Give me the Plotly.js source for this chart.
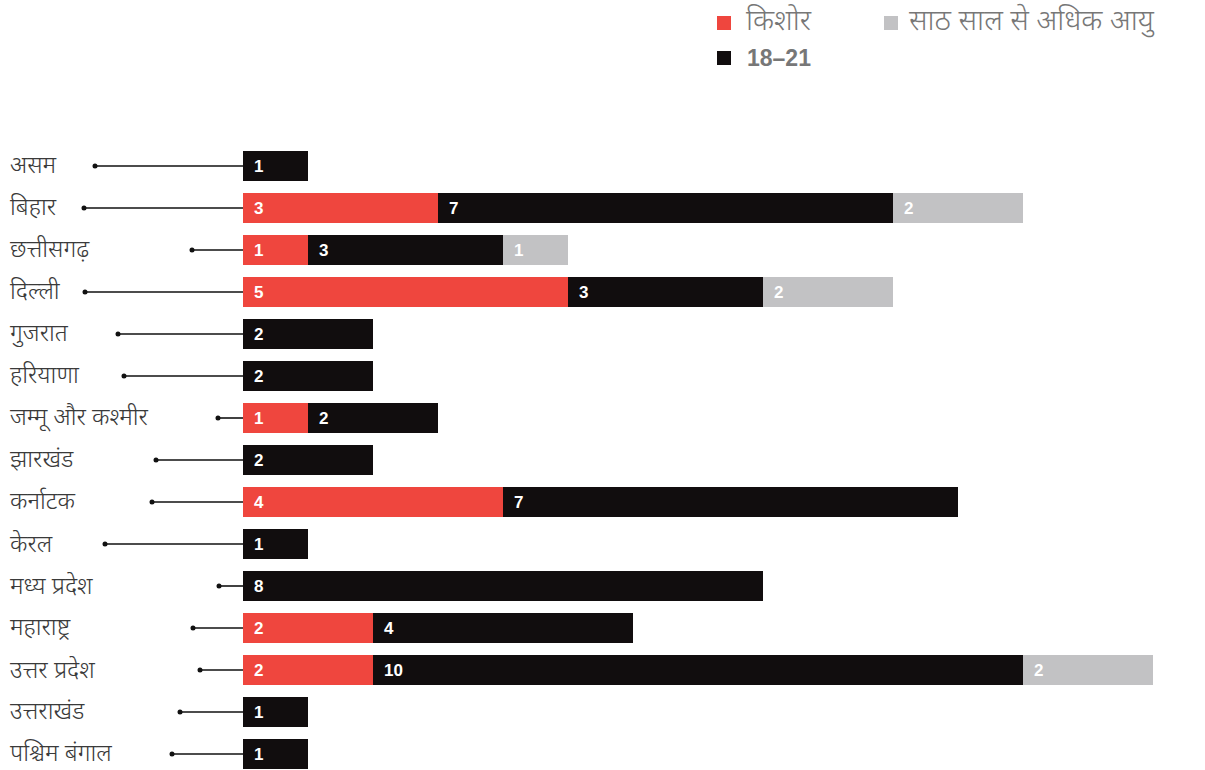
<!DOCTYPE html>
<html>
<head>
<meta charset="utf-8">
<script src="https://cdn.plot.ly/plotly-3.0.1.min.js"></script>
<style>
  html, body { margin: 0; padding: 0; background: #fff; }
  #chart { width: 1205px; height: 770px; }
</style>
</head>
<body>
<div id="chart"></div>
<script>
// ---- data ----
const states = ["असम", "बिहार", "छत्तीसगढ़", "दिल्ली", "गुजरात", "हरियाणा", "जम्मू और कश्मीर", "झारखंड", "कर्नाटक", "केरल", "मध्य प्रदेश", "महाराष्ट्र", "उत्तर प्रदेश", "उत्तराखंड", "पश्चिम बंगाल"];
const teen   = [0, 3, 1, 5, 0, 0, 1, 0, 4, 0, 0, 2, 2, 0, 0];
const young  = [1, 7, 3, 3, 2, 2, 2, 2, 7, 1, 8, 4, 10, 1, 1];
const senior = [0, 2, 1, 2, 0, 0, 0, 0, 0, 0, 0, 0, 2, 0, 0];
const seriesNames = ["किशोर", "18–21", "साठ साल से अधिक आयु"];

// ---- layout constants (pixels) ----
const W = 1205, H = 770;
const ML = 243, MR = 20, MT = 145, MB = 0;
const unitPx = 65, rowPx = 42;
const plotW = W - ML - MR, plotH = H - MT - MB;
const leaderDotPx = [95, 84, 192, 85, 118, 124, 218, 156, 152, 105, 219, 193, 200, 180, 172];
const labelPx = 9;
const colors = ["#ef463e", "#110d0e", "#c2c2c4"];
const devFont = "'Noto Sans Devanagari', 'Lohit Devanagari', 'Noto Sans', sans-serif";

const toPaperX = px => (px - ML) / plotW;
const toPaperY = py => (H - MB - py) / plotH;
const nz = arr => arr.map(v => v === 0 ? null : v);
const series = [teen, young, senior];

const traces = series.map((vals, k) => ({
  type: "bar",
  orientation: "h",
  y: states,
  x: nz(vals),
  name: seriesNames[k],
  marker: { color: colors[k], line: { width: 0 } },
  hoverinfo: "x+y+name",
  showlegend: false
}));

const annotations = [];
const shapes = [];

states.forEach((s, i) => {
  let base = 0;
  series.forEach((vals, k) => {
    const v = vals[i];
    if (v > 0) {
      annotations.push({
        x: base, y: s, xref: "x", yref: "y",
        text: String(v), showarrow: false,
        xanchor: "left", yanchor: "middle", xshift: 9, yshift: 0,
        font: { family: "'Liberation Sans', Arial, sans-serif", size: 17, color: "#ffffff", weight: 700 }
      });
    }
    base += v;
  });
  annotations.push({
    x: toPaperX(labelPx), y: s, xref: "paper", yref: "y",
    text: s, showarrow: false, xanchor: "left", yanchor: "middle", yshift: -1,
    borderpad: 0,
    font: { family: devFont, size: 24, color: "#3a3a3a", weight: 300 }
  });
  shapes.push({
    type: "line", xref: "paper", yref: "y",
    x0: toPaperX(leaderDotPx[i]), x1: 0, y0: i, y1: i,
    line: { color: "#111111", width: 1.6 }, layer: "below"
  });
  shapes.push({
    type: "circle", xref: "paper", yref: "y",
    xsizemode: "pixel", ysizemode: "pixel",
    xanchor: toPaperX(leaderDotPx[i]), yanchor: i,
    x0: -2.5, x1: 2.5, y0: -2.5, y1: 2.5,
    fillcolor: "#111111", line: { width: 0 }
  });
});

// custom legend (two rows: red + gray on top, black below)
const legendItems = [
  { k: 0, sq: 717, tx: 744, cy: 23, font: devFont, size: 29, weight: 300 },
  { k: 2, sq: 884, tx: 907, cy: 23, font: devFont, size: 29, weight: 300 },
  { k: 1, sq: 717, tx: 745, cy: 58, font: "'Liberation Sans', Arial, sans-serif", size: 23, weight: 700 }
];
legendItems.forEach(it => {
  shapes.push({
    type: "rect", xref: "paper", yref: "paper",
    x0: toPaperX(it.sq), x1: toPaperX(it.sq + 14),
    y0: toPaperY(it.cy + 7), y1: toPaperY(it.cy - 7),
    fillcolor: colors[it.k], line: { width: 0 }
  });
  annotations.push({
    x: toPaperX(it.tx), y: toPaperY(it.cy), xref: "paper", yref: "paper",
    text: seriesNames[it.k], showarrow: false, xanchor: "left", yanchor: "middle",
    font: { family: it.font, size: it.size, color: "#777777", weight: it.weight }
  });
});

const layout = {
  width: W, height: H,
  margin: { l: ML, r: MR, t: MT, b: MB, pad: 0 },
  paper_bgcolor: "#ffffff", plot_bgcolor: "#ffffff",
  barmode: "stack",
  bargap: 0.28,
  showlegend: false,
  xaxis: { range: [0, plotW / unitPx], visible: false, fixedrange: true },
  yaxis: { type: "category", range: [plotH / rowPx - 0.5, -0.5], visible: false, fixedrange: true },
  annotations: annotations,
  shapes: shapes
};

Plotly.newPlot("chart", traces, layout, { displayModeBar: false, staticPlot: true });
</script>
</body>
</html>
